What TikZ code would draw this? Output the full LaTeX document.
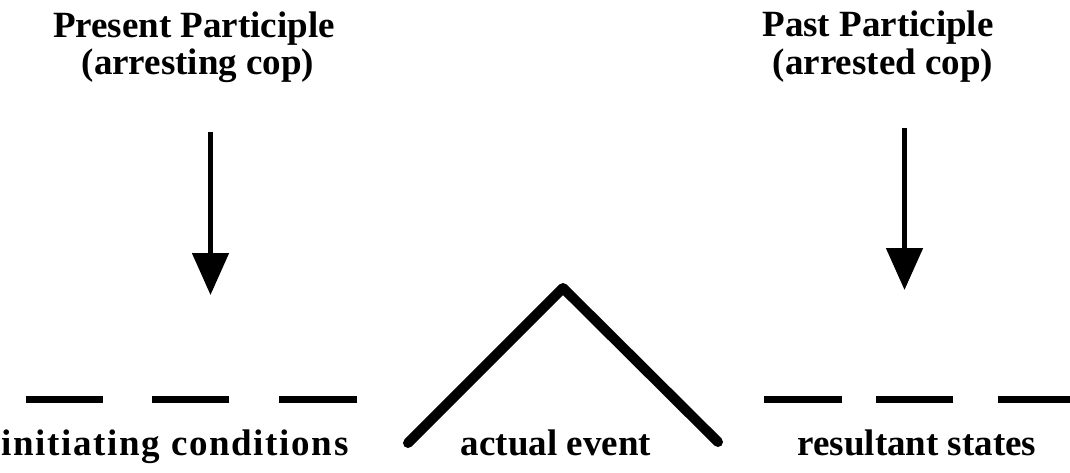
\documentclass[tikz,border=0pt]{standalone}
\usepackage{fontspec}
\setmainfont{Liberation Serif}
\usetikzlibrary{arrows.meta}
\tikzset{
  lbl/.style={font=\fontsize{37}{40}\selectfont\bfseries, inner sep=0pt, anchor=base},
  downarrow/.style={line width=5pt, -{Triangle[width=36pt,length=42pt]}},
  dashseg/.style={line width=7pt, line cap=butt},
  event/.style={line width=10pt, line cap=round, line join=round}
}
\begin{document}
\begin{tikzpicture}[x=1pt,y=-1pt]
\useasboundingbox (0,0) rectangle (1070,473);
% top labels
\node[lbl] (pres) at (194,38) {Present Participle};
\node[lbl] (presx) at (198,75) {(arresting cop)};
\node[lbl] (past) at (878,37) {Past Participle};
\node[lbl] (pastx) at (883,75) {(arrested cop)};
% arrows
\coordinate (a1s) at (210.5,132);
\coordinate (a1e) at (210.5,295);
\coordinate (a2s) at (904.5,128);
\coordinate (a2e) at (904.5,290);
\draw[downarrow] (a1s) -- (a1e);
\draw[downarrow] (a2s) -- (a2e);
% dashed baselines
\draw[dashseg] (26,399.5) -- (103,399.5);
\draw[dashseg] (152,399.5) -- (229,399.5);
\draw[dashseg] (279,399.5) -- (357,399.5);
\draw[dashseg] (764,399.5) -- (842,399.5);
\draw[dashseg] (876,399.5) -- (953,399.5);
\draw[dashseg] (998,399.5) -- (1070,399.5);
% actual event
\coordinate (evl) at (408,443);
\coordinate (evp) at (563,288);
\coordinate (evr) at (718,442);
\draw[event] (evl) -- (evp) -- (evr);
% bottom labels
\node[lbl] (init) at (175,455) {\addfontfeature{LetterSpace=4.5}initiating conditions};
\node[lbl] (act) at (556,455) {actual event};
\node[lbl] (res) at (917,455) {resultant states};
\end{tikzpicture}
\end{document}
